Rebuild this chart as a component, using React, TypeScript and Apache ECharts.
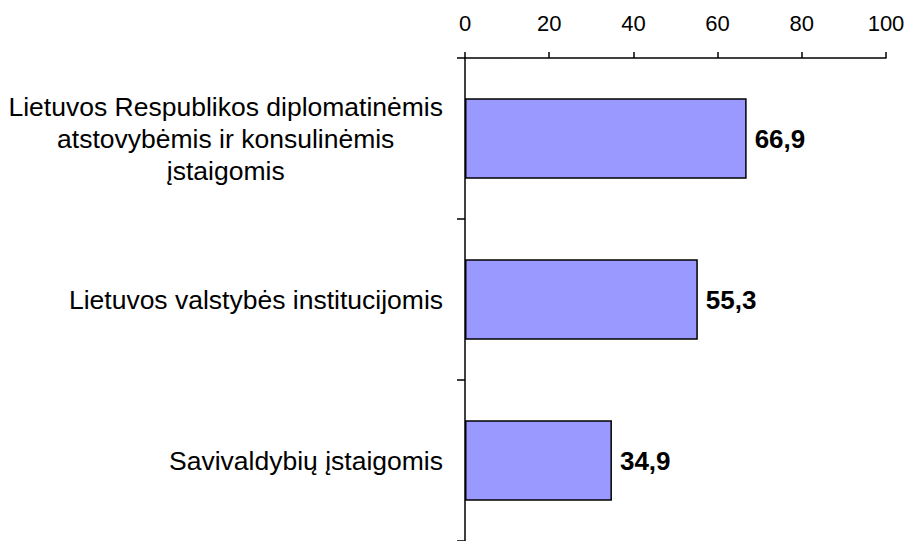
import React, { useEffect, useRef } from "react";
import * as echarts from "echarts";

const categories: string[] = [
  "Lietuvos Respublikos diplomatinėmis\natstovybėmis ir konsulinėmis\nįstaigomis",
  "Lietuvos valstybės institucijomis",
  "Savivaldybių įstaigomis",
];
const values: number[] = [66.9, 55.3, 34.9];
const xTicks = { min: 0, max: 100, interval: 20 };

const FONT = "'Liberation Sans', Arial, sans-serif";

export default function App() {
  const ref = useRef<HTMLDivElement>(null);
  useEffect(() => {
    if (!ref.current) return;
    const chart = echarts.init(ref.current, null, { renderer: "svg" });
    chart.setOption({
      animation: false,
      backgroundColor: "#ffffff",
      grid: { left: 465, right: 22, top: 58, bottom: 0, containLabel: false },
      xAxis: {
        type: "value",
        position: "top",
        min: xTicks.min,
        max: xTicks.max,
        interval: xTicks.interval,
        axisLine: { show: true, lineStyle: { color: "#000", width: 1.5 } },
        axisTick: { show: true, inside: false, length: 6, lineStyle: { color: "#000", width: 1.5 } },
        splitLine: { show: false },
        axisLabel: { color: "#000", fontSize: 22, fontFamily: FONT, margin: 24 },
      },
      yAxis: {
        type: "category",
        inverse: true,
        data: categories,
        axisLine: { show: true, lineStyle: { color: "#000", width: 1.5 } },
        axisTick: { show: true, length: 8, lineStyle: { color: "#000", width: 1.5 } },
        axisLabel: {
          color: "#000",
          fontFamily: FONT,
          fontSize: 26.5,
          margin: 22,
          formatter: (v: string) => v.split("\n").map((l) => `{c|${l}}`).join("\n"),
          rich: { c: { align: "center", fontSize: 26.5, lineHeight: 32, fontFamily: FONT, color: "#000" } },
        },
      },
      series: [
        {
          type: "bar",
          data: values,
          barWidth: "50%",
          itemStyle: { color: "#9999FF", borderColor: "#000", borderWidth: 1.5 },
          label: {
            show: true,
            position: "right",
            distance: 8,
            color: "#000",
            fontWeight: "bold",
            fontSize: 26,
            fontFamily: FONT,
            formatter: (p: any) => String(p.value).replace(".", ","),
          },
        },
      ],
    });
    return () => chart.dispose();
  }, []);
  return (
    <div
      ref={ref}
      style={{ position: "fixed", left: 0, top: 0, width: 908, height: 541 }}
    />
  );
}
